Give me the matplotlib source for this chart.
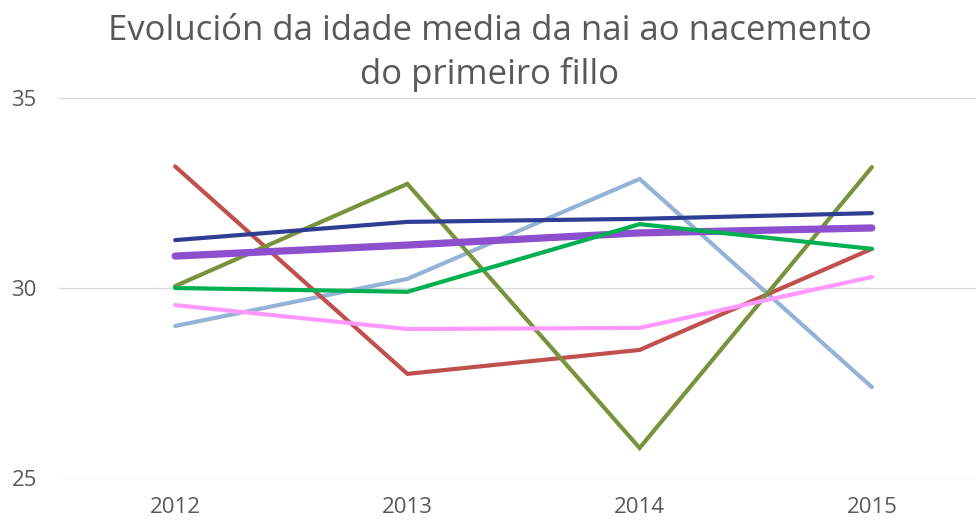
import matplotlib
matplotlib.use('Agg')
import matplotlib.pyplot as plt

# data
years = ['2012', '2013', '2014', '2015']
dark_blue = [31.26, 31.74, 31.82, 31.97]
red = [33.2, 27.74, 28.37, 31.03]
olive = [30.05, 32.74, 25.79, 33.18]
light_blue = [29.0, 30.24, 32.87, 27.39]
purple = [30.84, 31.13, 31.45, 31.58]
green = [30.0, 29.9, 31.68, 31.03]
pink = [29.55, 28.92, 28.95, 30.29]

plt.rcParams['font.family'] = ['Open Sans', 'DejaVu Sans']
grey = '#595959'

fig = plt.figure(figsize=(9.76, 5.22), dpi=100)
# x from 59px to 988px, y: 25 at 478px, 35 at 98px
ax = fig.add_axes([59/976, (522-478)/522, (988-59)/976, (478-98)/522])

x = range(len(years))
series = [
    (light_blue, '#95B3D7', 3.0),
    (red, '#C0504D', 3.0),
    (olive, '#77933C', 3.0),
    (purple, '#8E4FCF', 5.2),
    (green, '#00B050', 3.0),
    (dark_blue, '#2E3F93', 3.0),
    (pink, '#FF99FF', 3.0),
]
for vals, col, lw in series:
    ax.plot(x, vals, color=col, lw=lw, solid_capstyle='round', solid_joinstyle='miter')

ax.set_xlim(-0.5, 3.5)
ax.set_ylim(25, 35)
ax.set_yticks([25, 30, 35])
ax.set_xticks(list(x))
ax.set_xticklabels(years)
ax.yaxis.grid(True, color='#D9D9D9', lw=1)
ax.set_axisbelow(True)
for s in ax.spines.values():
    s.set_visible(False)
ax.tick_params(length=0, labelsize=16, colors=grey)
ax.tick_params(axis='y', pad=16)
ax.tick_params(axis='x', pad=14)

fig.text(0.502, 0.973, 'Evolución da idade media da nai ao nacemento\ndo primeiro fillo',
         ha='center', va='top', fontsize=25, color=grey, linespacing=1.33)

fig.savefig('out.png', dpi=100)
